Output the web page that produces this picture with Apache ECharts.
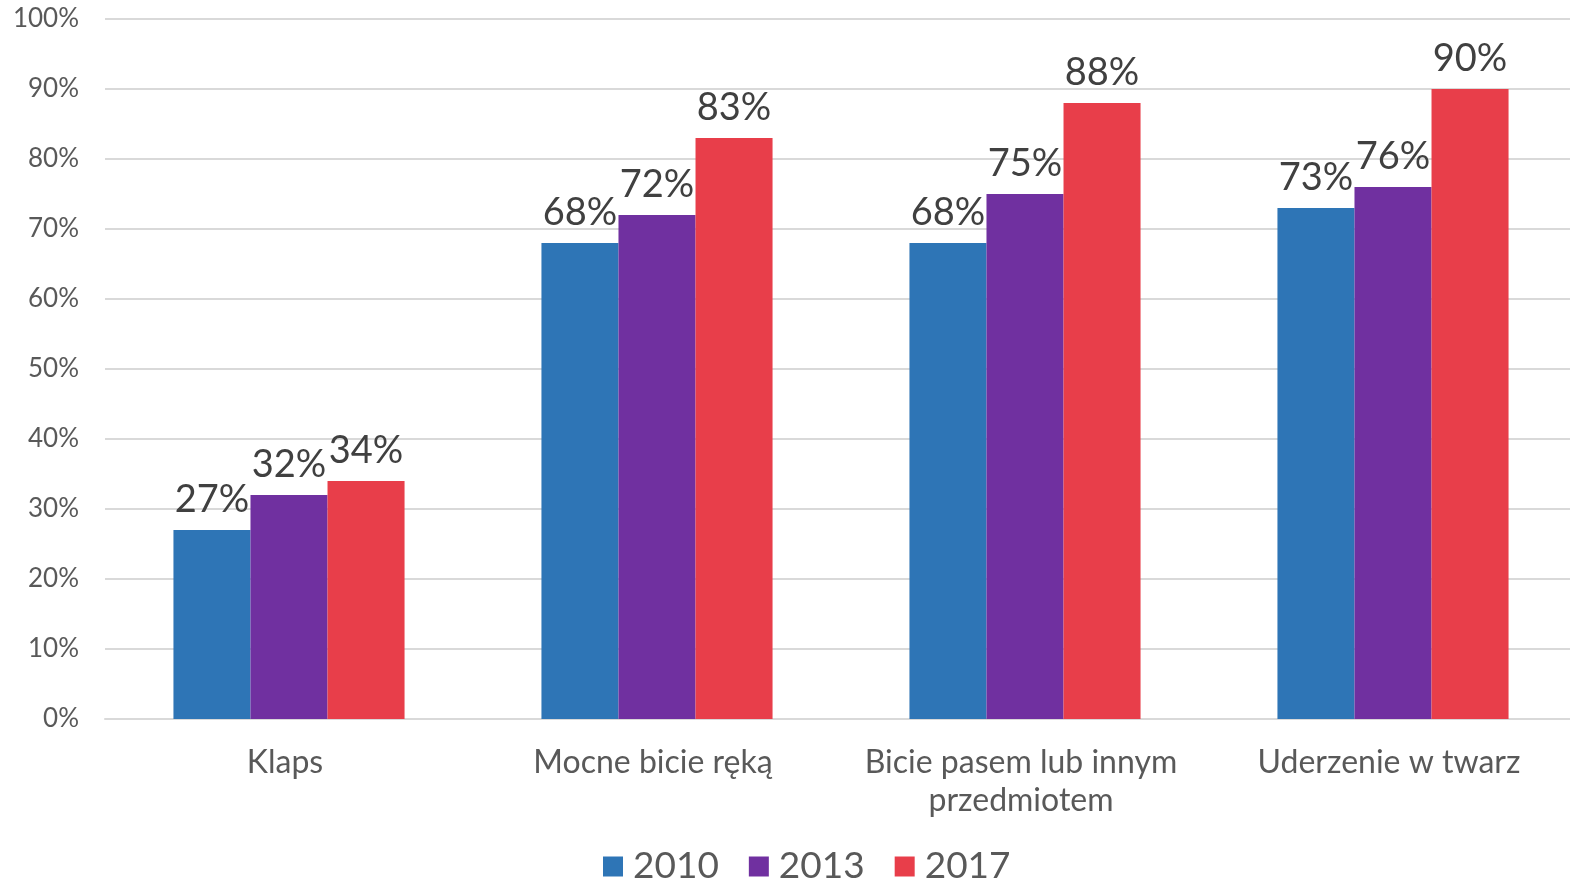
<!DOCTYPE html>
<html><head><meta charset="utf-8">
<script src="https://cdn.jsdelivr.net/npm/echarts@6/dist/echarts.min.js"></script>
<style>html,body{margin:0;padding:0;background:#fff;overflow:hidden}#c{width:1577px;height:882px}</style>
</head><body><div id="c"></div>
<script>
const categories = ['Klaps', 'Mocne bicie ręką', 'Bicie pasem lub innym\nprzedmiotem', 'Uderzenie w twarz'];
const seriesNames = ['2010', '2013', '2017'];
const values2010 = [27, 68, 68, 73];
const values2013 = [32, 72, 75, 76];
const values2017 = [34, 83, 88, 90];
const colors = ['#2E75B6', '#7030A0', '#E83E4A'];
const font = 'Lato';
const chart = echarts.init(document.getElementById('c'));
const mk = (name, data, color) => ({
  name, type: 'bar', data, barGap: '0%', barCategoryGap: '37.2%',
  itemStyle: { color },
  label: { show: true, position: 'top', distance: 11, formatter: '{c}%', fontFamily: font, fontSize: 38, color: '#404040' }
});
chart.setOption({
  animation: false,
  grid: { left: 105, right: 0, top: 19, bottom: 163, containLabel: false },
  legend: {
    top: 843, left: 598, itemWidth: 20, itemHeight: 20, itemGap: 30,
    icon: 'rect',
    textStyle: { fontFamily: font, fontSize: 37, color: '#595959', padding: [0, 0, 0, 5] },
    data: seriesNames
  },
  xAxis: {
    type: 'category', data: categories,
    axisLine: { lineStyle: { color: '#D9D9D9', width: 2 } },
    axisTick: { show: false },
    axisLabel: { interval: 0, fontFamily: font, fontSize: 32, color: '#595959', margin: 25, lineHeight: 38, padding: [0, 8, 0, 0] }
  },
  yAxis: {
    type: 'value', min: 0, max: 100, interval: 10,
    axisLine: { show: false }, axisTick: { show: false },
    splitLine: { lineStyle: { color: '#D9D9D9', width: 2 } },
    axisLabel: { fontFamily: font, fontSize: 26, color: '#595959', margin: 26, formatter: '{value}%' }
  },
  series: [mk(seriesNames[0], values2010, colors[0]), mk(seriesNames[1], values2013, colors[1]), mk(seriesNames[2], values2017, colors[2])]
});
</script></body></html>
